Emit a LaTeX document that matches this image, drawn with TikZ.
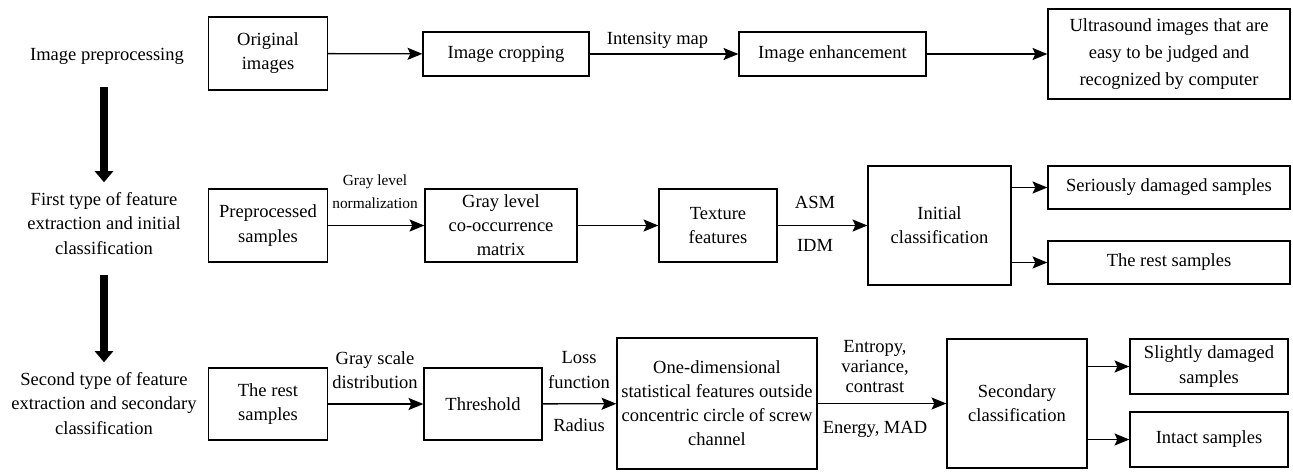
\documentclass[tikz,border=0pt]{standalone}
\usepackage{fontspec}
\setmainfont{Liberation Serif}
\usetikzlibrary{arrows.meta}

\tikzset{
  box/.style={draw, line width=0.7pt, align=center, inner sep=1pt,
              font=\fontsize{10}{13}\selectfont},
  boxsize/.style 2 args={minimum width=#1*0.54pt, minimum height=#2*0.54pt},
  lbl/.style={align=center, inner sep=0pt, font=\fontsize{10}{13}\selectfont},
  flow/.style={line width=0.7pt, -{Stealth[length=8pt,width=6.5pt,inset=1.5pt]}},
  stage/.style={line width=4.3pt, -{Triangle[length=6pt,width=9.7pt]}},
}

\begin{document}
\begin{tikzpicture}[x=0.54pt, y=-0.54pt]
\useasboundingbox (0,0) rectangle (1293,471);

% Stages
\node[lbl] (s1) at (107,56) {Image preprocessing};
\node[lbl] (s2) at (104,223.5) {First type of feature\\extraction and initial\\classification};
\node[lbl] (s3) at (104,403.5) {Second type of feature\\extraction and secondary\\classification};
\draw[stage, shorten <=12.4pt, shorten >=5.5pt] (s2.north |- s1.south) -- (s2.north);
\draw[stage, shorten <=11pt, shorten >=5.5pt] (s3.north |- s2.south) -- (s3.north);

% Row 1
\node[box, boxsize={118.5}{73}] (orig)  at (268,53.5)  {Original\\images};
\node[box, boxsize={166}{44}]   (crop)  at (506,54)    {Image cropping};
\node[box, boxsize={187}{44}]   (enh)   at (832.5,54)  {Image enhancement};
\node[box, boxsize={242}{90}, font=\fontsize{10}{14.8}\selectfont]
                                (ultra) at (1169,54)   {Ultrasound images that are\\easy to be judged and\\recognized by computer};

% Row 2
\node[box, boxsize={118.5}{73}] (prep)    at (268,225.5)  {Preprocessed\\samples};
\node[box, boxsize={152}{73}]   (glcm)    at (501,225.5)  {Gray level\\co-occurrence\\matrix};
\node[box, boxsize={118}{73}]   (tex)     at (718,225.5)  {Texture\\features};
\node[box, boxsize={143}{119}]  (init)    at (939.5,225.5) {Initial\\classification};
\node[box, boxsize={242}{43}]   (serious) at (1169,187.5) {Seriously damaged samples};
\node[box, boxsize={242}{43}]   (restA)   at (1169,262.5) {The rest samples};

% Row 3
\node[box, boxsize={118.5}{72}] (restB)  at (268,404)    {The rest\\samples};
\node[box, boxsize={118}{72}]   (thr)    at (483,404)    {Threshold};
\node[box, boxsize={200}{131}]  (onedim) at (717,403.5)  {One-dimensional\\statistical features outside\\concentric circle of screw\\channel};
\node[box, boxsize={140}{129}]  (sec)    at (1017,403.5) {Secondary\\classification};
\node[box, boxsize={158}{55}]   (slight) at (1209,366.5) {Slightly damaged\\samples};
\node[box, boxsize={158}{55}]   (intact) at (1209,439.5) {Intact samples};

% Arrows
\foreach \a/\b in {orig/crop, crop/enh, enh/ultra, prep/glcm, glcm/tex, tex/init,
                   restB/thr, thr/onedim, onedim/sec}
  \draw[flow] (\a) -- (\b);
\foreach \b in {serious, restA} \draw[flow] (init.east |- \b) -- (\b);
\foreach \b in {slight, intact} \draw[flow] (sec.east |- \b) -- (\b);

% Labels
\node[lbl] (lint) at (657.5,40) {Intensity map};
\node[lbl, font=\fontsize{8.3}{12.4}\selectfont] (lnorm) at (375,191.5) {Gray level\\normalization};
\node[lbl] (lasm)  at (815,202) {ASM};
\node[lbl] (lidm)  at (815,245) {IDM};
\node[lbl] (lgray) at (375,370) {Gray scale\\distribution};
\node[lbl] (lloss) at (579,370) {Loss\\function};
\node[lbl] (lrad)  at (579,425) {Radius};
\node[lbl, font=\fontsize{10}{10.8}\selectfont] (lent) at (875,367) {Entropy,\\variance,\\contrast};
\node[lbl] (lene)  at (875,429) {Energy, MAD};

\end{tikzpicture}
\end{document}
